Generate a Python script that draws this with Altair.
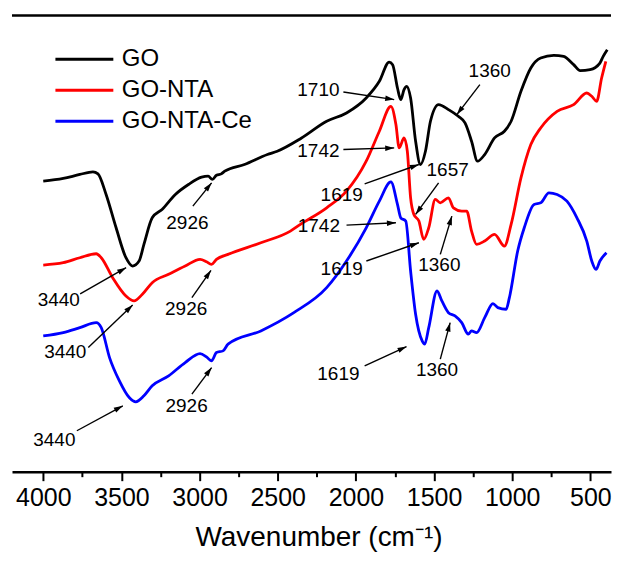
import math
import altair as alt
import pandas as pd

FONT = "Liberation Sans"

# ---------------- spectra (wavenumber, transmittance a.u.) ----------------
go_wn = [4000, 3872, 3766, 3682, 3650, 3598, 3534, 3471, 3429, 3387, 3356, 3303, 3240, 3155,
         3071, 2987, 2945, 2918, 2892, 2861, 2839, 2713, 2566, 2503, 2350, 2187, 2060, 1934,
         1850, 1787, 1765, 1734, 1713, 1692, 1675, 1650, 1618, 1587, 1555, 1523, 1471, 1408,
         1345, 1302, 1260, 1222, 1176, 1113, 1050, 1007, 944, 881, 818, 734, 671, 607, 565,
         502, 439, 418, 392]
go_t = [291, 293.7, 297.7, 300.3, 298.3, 277.7, 244.3, 214.3, 206, 211, 227.7, 254.3, 262.7, 277.7,
        287.7, 295, 296, 292.7, 297, 298.3, 301, 307.7, 317.7, 321, 334, 351, 359.3, 374.3,
        391, 410.3, 407.7, 384.3, 372.7, 382.7, 386, 374.3, 331, 307.7, 321, 351, 367.7, 362.7,
        356, 349.3, 331, 311, 317.7, 334.3, 341, 351, 381, 404.3, 414.3, 417, 416, 407.7, 401.7,
        402.7, 409.3, 416, 422.7]

nta_wn = [4000, 3872, 3766, 3661, 3629, 3556, 3471, 3419, 3366, 3303, 3198, 3092, 2997, 2956,
          2924, 2892, 2818, 2608, 2419, 2355, 2187, 2060, 1934, 1850, 1776, 1744, 1723, 1692,
          1671, 1650, 1629, 1597, 1566, 1534, 1492, 1460, 1408, 1376, 1323, 1291, 1260, 1228,
          1176, 1113, 1050, 1007, 944, 881, 818, 713, 607, 523, 491, 460, 428, 401]
nta_t = [207, 209.3, 214.3, 218.3, 214.3, 194.3, 176, 171, 177.7, 189.3, 197.7, 206, 212.7, 210.3,
         207.7, 212.7, 217.7, 229.3, 241, 247.7, 264.3, 281, 311, 341, 366, 347.7, 324.3, 334.3,
         321, 274.3, 257.7, 251, 232.7, 244.3, 272.7, 269.3, 274.3, 264.3, 261, 261, 241, 227.7,
         231, 237.7, 226, 247.7, 294.3, 327.7, 344.3, 361, 367.7, 379.3, 376, 371, 394.3, 411]

ce_wn = [4000, 3872, 3766, 3661, 3629, 3576, 3513, 3450, 3408, 3356, 3303, 3198, 3092, 2997,
         2956, 2924, 2892, 2850, 2818, 2608, 2397, 2187, 2060, 1934, 1850, 1776, 1734, 1713,
         1681, 1650, 1618, 1576, 1560, 1534, 1481, 1450, 1408, 1366, 1323, 1281, 1260, 1228,
         1176, 1123, 1092, 1039, 1018, 965, 923, 860, 818, 765, 713, 650, 586, 523, 491, 464,
         439, 397]
ce_t = [136, 139.3, 144.3, 149.3, 144.3, 114.3, 91, 74.3, 70, 76, 86, 96, 109.3, 118.3,
        115, 111, 119.3, 121, 127.7, 141, 159.3, 184.3, 211, 244.3, 271, 290.3, 267.7, 254.3,
        251, 201, 157.7, 131, 127.7, 144.3, 181, 171, 159.3, 156, 149.3, 137.7, 141, 139.3,
        154.3, 168.3, 164.3, 162.7, 174.3, 221, 244.3, 267.7, 269.3, 279.3, 277.7, 271, 254.3, 231, 211, 202.7,
        211, 219.3]

series_names = ["GO", "GO-NTA", "GO-NTA-Ce"]
series_colors = ["#000000", "#ff0000", "#0000ff"]

# ---------------- annotations ----------------
ann_label = ["3440", "3440", "3440", "2926", "2926", "2926", "1710", "1360",
             "1742", "1619", "1657", "1742", "1619", "1360", "1619", "1360"]
ann_tx = [3901, 3859, 3929, 3078, 3086, 3083, 2240, 1144,
          2240, 2091, 1413, 2237, 2091, 1466, 2112, 1481]
ann_ty = [172, 120, 32, 249, 163, 66, 382, 401,
          321, 277, 302, 246, 203, 207, 98, 102]
arr_x1 = [3764, 3712, 3785, 3043, 3049, 3049, 2080, 1207,
          2080, 1944, 1471, 2060, 1933, 1460, 1944, 1460]
arr_y1 = [178, 124.3, 41, 266, 174.3, 77.7, 380.3, 387.7,
          322.7, 288.3, 289.3, 247, 211, 217.7, 106, 112.7]
arr_x2 = [3470, 3428, 3491, 2923, 2927, 2923, 1755, 1354,
          1755, 1597, 1618, 1744, 1597, 1386, 1676, 1397]
arr_y2 = [204.3, 167, 66, 289.3, 201.7, 104.3, 372.7, 357.7,
          324.3, 307.7, 257.7, 249.3, 229.3, 256, 125.3, 149.3]

major_ticks = [4000, 3500, 3000, 2500, 2000, 1500, 1000, 500]
minor_ticks = [3750, 3250, 2750, 2250, 1750, 1250, 750]

X_DOMAIN = [368, 4200]
Y_DOMAIN = [0, 457]
W, H = 600, 457

# ---------------- tables ----------------
rows = []
for name, wns, ts in [("GO", go_wn, go_t), ("GO-NTA", nta_wn, nta_t), ("GO-NTA-Ce", ce_wn, ce_t)]:
    for i, (w, t) in enumerate(zip(wns, ts)):
        rows.append({"series": name, "wn": w, "t": t, "idx": i})
spec = pd.DataFrame(rows)

px_per_wn = W / (X_DOMAIN[1] - X_DOMAIN[0])
px_per_t = H / (Y_DOMAIN[1] - Y_DOMAIN[0])
angles = []
for x1, y1, x2, y2 in zip(arr_x1, arr_y1, arr_x2, arr_y2):
    dx = (x1 - x2) * px_per_wn
    dy = -(y2 - y1) * px_per_t
    angles.append(math.degrees(math.atan2(dx, -dy)) % 360)

ann = pd.DataFrame({"label": ann_label, "tx": ann_tx, "ty": ann_ty,
                    "x1": arr_x1, "y1": arr_y1, "x2": arr_x2, "y2": arr_y2, "ang": angles})

xscale = alt.Scale(domain=X_DOMAIN, reverse=True, nice=False, zero=False)
yscale = alt.Scale(domain=Y_DOMAIN, nice=False, zero=False)

lines = alt.Chart(spec).mark_line(strokeWidth=2.8, interpolate="monotone").encode(
    x=alt.X("wn:Q", scale=xscale,
            axis=alt.Axis(values=major_ticks, orient="bottom", title="Wavenumber (cm⁻¹)",
                          format="d", grid=False, tickSize=9, tickWidth=2, tickColor="black",
                          domainWidth=2.5, domainColor="black",
                          labelFontSize=25, labelFont=FONT, labelColor="black", labelPadding=5,
                          labelOverlap=False, labelFlush=False,
                          titleFontSize=28, titleFont=FONT, titleFontWeight="normal",
                          titleColor="black", titlePadding=13, titleX=307, titleAlign="center")),
    y=alt.Y("t:Q", scale=yscale,
            axis=alt.Axis(labels=False, ticks=False, title=None, grid=False,
                          domainWidth=2.5, domainColor="black")),
    color=alt.Color("series:N", scale=alt.Scale(domain=series_names, range=series_colors),
                    legend=alt.Legend(title=None, orient="none", legendX=42, legendY=30,
                                      symbolType="stroke", symbolSize=3364, symbolStrokeWidth=3,
                                      labelFontSize=24, labelFont=FONT, labelColor="black",
                                      labelOffset=7, clipHeight=28, rowPadding=3, padding=0,
                                      labelLimit=300)),
    order=alt.Order("idx:Q"),
)

minor = alt.Chart(spec).mark_point(opacity=0, size=1).encode(
    x=alt.X("wn:Q", scale=xscale,
            axis=alt.Axis(values=minor_ticks, orient="bottom", labels=False, domain=False,
                          title=None, grid=False, tickSize=5, tickWidth=2, tickColor="black")),
    y=alt.Y("t:Q", scale=yscale, axis=None),
)

arrows = alt.Chart(ann).mark_rule(color="black", strokeWidth=1.4).encode(
    x=alt.X("x1:Q", scale=xscale, axis=None),
    y=alt.Y("y1:Q", scale=yscale, axis=None),
    x2="x2:Q",
    y2="y2:Q",
)

heads = alt.Chart(ann).mark_point(shape="M0,0L0.6,2L-0.6,2Z", filled=True, color="black",
                                  size=81, opacity=1, strokeWidth=0).encode(
    x=alt.X("x2:Q", scale=xscale, axis=None),
    y=alt.Y("y2:Q", scale=yscale, axis=None),
    angle=alt.Angle("ang:Q", scale=None),
)

texts = alt.Chart(ann).mark_text(fontSize=19, font=FONT, color="black",
                                 align="center", baseline="middle").encode(
    x=alt.X("tx:Q", scale=xscale, axis=None),
    y=alt.Y("ty:Q", scale=yscale, axis=None),
    text="label:N",
)

top_border = alt.Chart(pd.DataFrame({"k": [0]})).mark_rule(color="black", strokeWidth=2.5).encode(
    x=alt.value(0), x2=alt.value(W), y=alt.value(0)
)

chart = alt.layer(lines, minor, arrows, heads, texts, top_border).resolve_axis(
    x="independent"
).properties(
    width=W, height=H,
    padding={"left": 2, "top": 5, "right": 0, "bottom": 0},
).configure_view(stroke="transparent")

chart.save("out.html", embed_options={"renderer": "svg", "actions": False})
